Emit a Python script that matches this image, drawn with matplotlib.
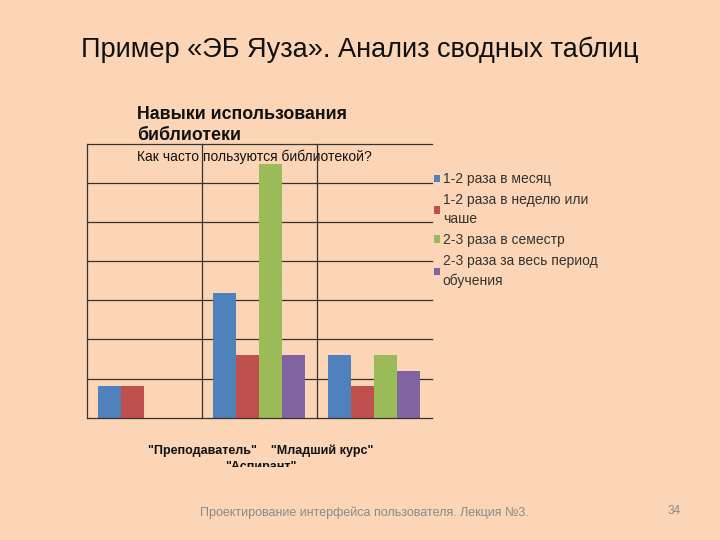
import numpy as np
import matplotlib

matplotlib.use('Agg')
import matplotlib.pyplot as plt
from matplotlib.patches import Rectangle

plt.rcParams['font.family'] = ['Liberation Sans', 'DejaVu Sans']

categories = ['"Преподаватель"', '"Младший курс"', '"Аспирант"']
series_names = ['1-2 раза в месяц', '1-2 раза в неделю или\nчаше',
                '2-3 раза в семестр', '2-3 раза за весь период\nобучения']
values = {
    '1-2 раза в месяц': [1, 4, 2],
    '1-2 раза в неделю или\nчаше': [1, 2, 1],
    '2-3 раза в семестр': [0, 8.1, 2],
    '2-3 раза за весь период\nобучения': [0, 2, 1.5],
}
colors = ['#4F81BD', '#C0504D', '#9BBB59', '#8064A2']
bg = '#FBD5B5'

fig = plt.figure(figsize=(7.2, 5.4), dpi=100, facecolor=bg)
ax = fig.add_axes([0.1208, 0.2265, 0.4792, 0.5068])
ax.set_facecolor(bg)

x = np.arange(len(categories))
w = 0.2
for i, name in enumerate(series_names):
    ax.bar(x - 0.3 + i * w, values[name], w, color=colors[i], zorder=3,
           label=name)

step = 1.25
ax.set_ylim(0, 7 * step)
ax.set_xlim(-0.5, 2.5)
for k in range(8):
    ax.axhline(k * step, color='#333333', lw=0.9, zorder=4 if k == 0 else 1,
               clip_on=False)
for xv in [-0.5, 0.5, 1.5]:
    ax.axvline(xv, color='#333333', lw=0.9, zorder=1, clip_on=False)
for s in ax.spines.values():
    s.set_visible(False)
ax.set_xticks([])
ax.set_yticks([])

# legend
leg = ax.legend(loc='upper left', bbox_to_anchor=(1.005, 0.897), frameon=False,
                fontsize=10, handlelength=0.45, handleheight=0.45,
                handletextpad=0.2, labelspacing=0.5, borderaxespad=0,
                borderpad=0)
for t in leg.get_texts():
    t.set_color('#333333')
    t.set_linespacing(1.45)

# chart titles
fig.text(137 / 720, 1 - 106 / 540, 'Навыки использования\nбиблиотеки', fontsize=12.8,
         fontweight='bold', va='top', ha='left', linespacing=1.27, color='#111111')
fig.text(137 / 720, 1 - 157 / 540, 'Как часто пользуются библиотекой?', fontsize=10,
         va='center', ha='left', color='#111111')

# category labels (overlapping as in the original)
fig.text(261 / 720, 1 - 451 / 540, categories[0] + '    ' + categories[1], fontsize=9,
         fontweight='bold', ha='center', va='center', color='#111111')
t3 = fig.text(261 / 720, 1 - 467 / 540, categories[2], fontsize=9,
              fontweight='bold', ha='center', va='center', color='#111111')
clip = Rectangle((0, 1 - 467 / 540), 1, 0.05, transform=fig.transFigure)
t3.set_clip_path(clip)

# slide title and footer
fig.text(0.5, 1 - 50 / 540, 'Пример «ЭБ Яуза». Анализ сводных таблиц', fontsize=19.5,
         ha='center', va='center', color='#111111')
fig.text(364 / 720, 1 - 513 / 540, 'Проектирование интерфейса пользователя. Лекция №3.',
         fontsize=9, ha='center', va='center', color='#8a8a8a')
fig.text(674 / 720, 1 - 511 / 540, '34', fontsize=8.5, ha='center', va='center',
         color='#8a8a8a')

fig.savefig('out.png', dpi=100, facecolor=bg)
